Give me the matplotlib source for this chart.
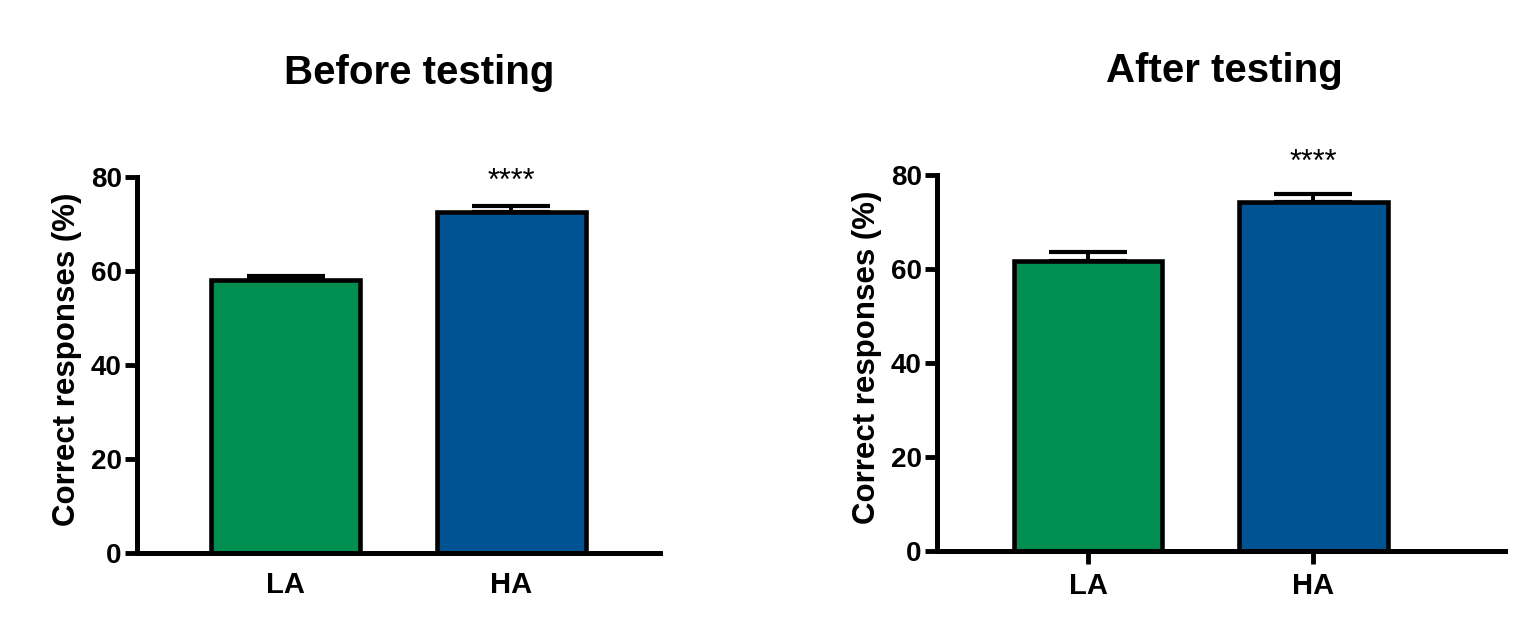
import matplotlib.pyplot as plt

# Values (mean, upper SEM)
groups = ['LA', 'HA']
before_mean = [58.1, 72.6]
before_sem = [0.9, 1.2]
after_mean = [61.6, 74.3]
after_sem = [2.1, 1.6]
titles = ['Before testing', 'After testing']
yticks = [0, 20, 40, 60, 80]
colors = ['#008f50', '#005393']

plt.rcParams['font.family'] = ['Liberation Sans', 'DejaVu Sans']
plt.rcParams['font.weight'] = 'bold'

fig = plt.figure(figsize=(15.27, 6.31), dpi=100)
ax1 = fig.add_axes([0.0897, 0.1236, 0.3425, 0.5959])
ax2 = fig.add_axes([0.6136, 0.1268, 0.3720, 0.5959])

panels = [
    (ax1, before_mean, before_sem, titles[0], (-0.66, 1.66), 79.0, False),
    (ax2, after_mean, after_sem, titles[1], (-0.67, 1.85), 82.5, True),
]

for ax, means, sems, title, xlim, star_y, xticks_on in panels:
    x = list(range(len(groups)))
    ax.bar(x, means, width=0.66, color=colors, edgecolor='black',
           linewidth=3.3, zorder=2)
    # one-sided (upper) error bars
    ax.errorbar(x, means, yerr=[[0] * len(sems), sems], fmt='none',
                ecolor='black', elinewidth=2.8, capsize=28, capthick=3.0,
                zorder=1)
    ax.set_xlim(*xlim)
    ax.set_ylim(0, 80)
    ax.set_yticks(yticks)
    ax.set_xticks(x)
    ax.set_xticklabels(groups, fontsize=21, fontweight='bold')
    ax.tick_params(axis='y', labelsize=20, width=3.5, length=9, pad=2)
    if xticks_on:
        ax.tick_params(axis='x', width=3.5, length=9, pad=6)
    else:
        ax.tick_params(axis='x', length=0, pad=13)
    for s in ['top', 'right']:
        ax.spines[s].set_visible(False)
    for s in ['left', 'bottom']:
        ax.spines[s].set_linewidth(3.6)
    ax.set_ylabel('Correct responses (%)', fontsize=22.5, fontweight='bold',
                  labelpad=6, y=0.515)
    ax.text(1, star_y, '****', ha='center', va='center', fontsize=22,
            fontweight='normal', clip_on=False)

fig.text(0.2748, 0.885, titles[0], ha='center', va='center', fontsize=29,
         fontweight='bold')
fig.text(0.802, 0.888, titles[1], ha='center', va='center', fontsize=29,
         fontweight='bold')

fig.savefig('out.png', dpi=100)
